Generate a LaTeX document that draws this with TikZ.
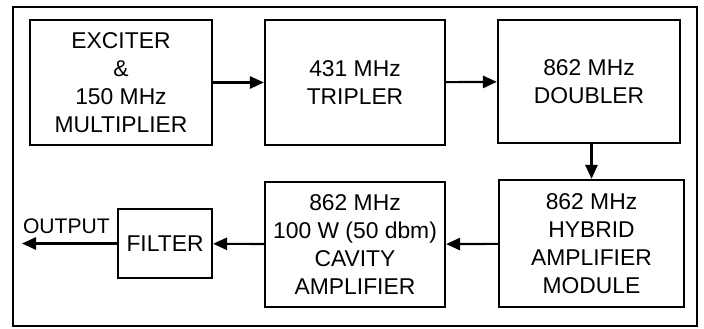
\documentclass[tikz,border=0pt]{standalone}
\usepackage{fontspec}
\setmainfont{Liberation Sans}
\usetikzlibrary{arrows.meta,positioning}

\begin{document}
\begin{tikzpicture}[
  blk/.style={draw,line width=1.3pt,align=center,inner sep=2pt,
    font=\fontsize{13}{15.8}\selectfont},
  arr/.style={-{Triangle[length=8pt,width=7pt]},line width=1.2pt},
  lbl/.style={font=\fontsize{12}{14}\selectfont,inner sep=1pt}]
  \useasboundingbox (0,0) rectangle (14.08,6.58);
  \draw[line width=0.9pt] (0.26,0.06) rectangle (13.94,6.44);
  \node[blk,minimum width=3.64cm,minimum height=2.5cm](EXC) at (2.42,4.93)
    {EXCITER\\\&\\150 MHz\\MULTIPLIER};
  \node[blk,minimum width=3.6cm,minimum height=2.5cm](TRIP) at (7.1,4.93)
    {431 MHz\\TRIPLER};
  \node[blk,minimum width=3.64cm,minimum height=2.46cm](DBL) at (11.78,4.95)
    {862 MHz\\DOUBLER};
  \node[blk,minimum width=3.7cm,minimum height=2.54cm](HYB) at (11.83,1.71)
    {862 MHz\\HYBRID\\AMPLIFIER\\MODULE};
  \node[blk,minimum width=3.6cm,minimum height=2.5cm](CAV) at (7.1,1.69)
    {862 MHz\\100 W (50 dbm)\\CAVITY\\AMPLIFIER};
  \node[blk,minimum width=1.88cm,minimum height=1.38cm](FILT) at (3.3,1.71)
    {FILTER};
  \coordinate (OUT) at (0.44,1.71);
  \draw[arr](EXC)--(TRIP);
  \draw[arr](TRIP)--(DBL);
  \draw[arr](DBL.south-|HYB.north)--(HYB.north);
  \draw[arr](HYB)--(CAV);
  \draw[arr](CAV)--(FILT);
  \draw[arr](FILT)--(OUT);
  % Output label
  \node[lbl,above left=0.16cm and 0.1cm of FILT.west](OUTLBL){OUTPUT};
\end{tikzpicture}
\end{document}
